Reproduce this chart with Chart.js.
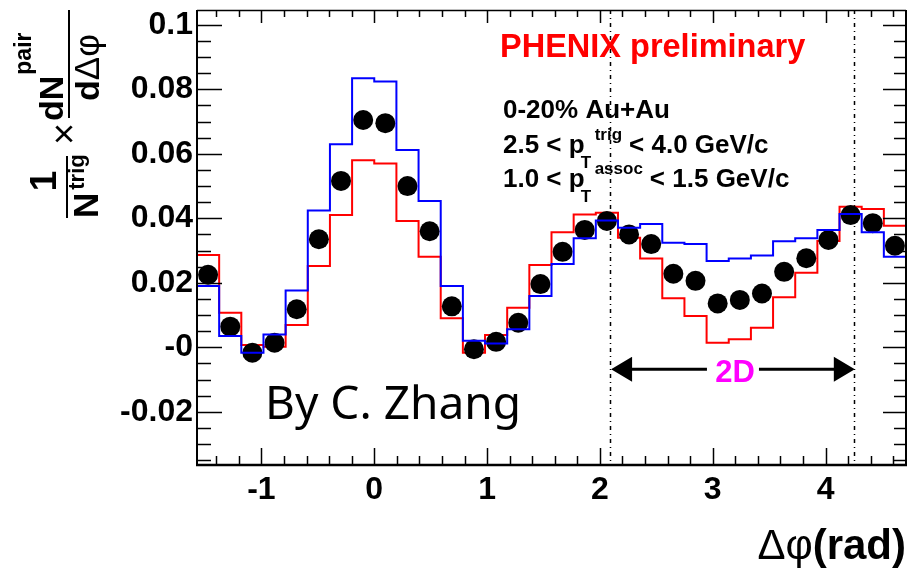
<!DOCTYPE html>
<html>
<head>
<meta charset="utf-8">
<title>PHENIX dihadron correlation, 0-20% Au+Au</title>
<script src="https://cdn.jsdelivr.net/npm/chart.js"></script>
<style>
  html, body { margin: 0; padding: 0; background: #fff; }
  #chart { display: block; }
</style>
</head>
<body>
<canvas id="chart" width="909" height="570"></canvas>
<script>
// Δφ binning: 32 bins over [-π/2, 3π/2]
const nBins = 32;
const phiLow = -Math.PI / 2;
const phiHigh = 3 * Math.PI / 2;
const binWidth = (phiHigh - phiLow) / nBins;

// per-trigger pair yield (black points)
const pairYield = [0.0225, 0.0064, -0.0017, 0.0014, 0.0118, 0.0335, 0.0516, 0.0705,
                   0.0695, 0.0500, 0.0360, 0.0127, -0.0006, 0.0017, 0.0076, 0.0196,
                   0.0296, 0.0364, 0.0392, 0.0350, 0.0320, 0.0228, 0.0206, 0.0136,
                   0.0147, 0.0167, 0.0234, 0.0276, 0.0333, 0.0410, 0.0385, 0.0315];
// systematic band, upper (blue) and lower (red) histograms
const bandBlue = [0.0190, 0.0035, -0.0017, 0.0040, 0.0176, 0.0424, 0.0630, 0.0834,
                  0.0824, 0.0612, 0.0454, 0.0190, 0.0020, 0.0012, 0.0056, 0.0159,
                  0.0258, 0.0338, 0.0393, 0.0371, 0.0382, 0.0324, 0.0320, 0.0268,
                  0.0275, 0.0285, 0.0329, 0.0338, 0.0364, 0.0413, 0.0357, 0.0281];
const bandRed = [0.0286, 0.0107, 0.0007, 0.0002, 0.0069, 0.0252, 0.0410, 0.0580,
                 0.0570, 0.0392, 0.0281, 0.0090, -0.0017, 0.0038, 0.0123, 0.0255,
                 0.0357, 0.0412, 0.0417, 0.0340, 0.0275, 0.0152, 0.0097, 0.0014,
                 0.0025, 0.0061, 0.0155, 0.0231, 0.0330, 0.0436, 0.0429, 0.0377];

const xTicks = [-1, 0, 1, 2, 3, 4];
const xTickLabels = ['-1', '0', '1', '2', '3', '4'];
const yTicks = [-0.02, 0, 0.02, 0.04, 0.06, 0.08, 0.1];
const yTickLabels = ['-0.02', '-0', '0.02', '0.04', '0.06', '0.08', '0.1'];
const yRange = [-0.0365, 0.1046];
const regionEdges = [2.09, 4.25];   // head region marked "2D"
const arrowLevel = -0.0068;

const binCenter = i => phiLow + (i + 0.5) * binWidth;
const binEdge = i => phiLow + i * binWidth;

// histogram outline: one point per lower bin edge plus the last upper edge
function histPoints(vals) {
  const pts = vals.map((v, i) => ({ x: binEdge(i), y: v }));
  pts.push({ x: binEdge(vals.length), y: vals[vals.length - 1] });
  return pts;
}

const SANS = '"Liberation Sans", Arial, sans-serif';
const bold = s => `bold ${s}px ${SANS}`;
const plain = s => `${s}px ${SANS}`;

function hline(ctx, x1, x2, y) {
  ctx.beginPath(); ctx.moveTo(x1, y); ctx.lineTo(x2, y); ctx.stroke();
}
function vline(ctx, x, y1, y2) {
  ctx.beginPath(); ctx.moveTo(x, y1); ctx.lineTo(x, y2); ctx.stroke();
}

// 1/N^trig × dN^pair/dΔφ written bottom-to-top
function drawYTitle(ctx) {
  ctx.save();
  ctx.rotate(-Math.PI / 2);          // local x = -page y, local y = page x
  ctx.fillStyle = '#000';
  ctx.strokeStyle = '#000';
  ctx.textBaseline = 'alphabetic';

  ctx.font = bold(37); ctx.textAlign = 'center';
  ctx.fillText('1', -181, 56);
  ctx.lineWidth = 2;
  hline(ctx, -218, -156, 67);
  ctx.textAlign = 'left';
  ctx.font = bold(35);
  ctx.fillText('N', -218, 98);
  const nW = ctx.measureText('N').width;
  ctx.font = bold(22);
  ctx.fillText('trig', -218 + nW + 3, 84);

  ctx.font = plain(38); ctx.textAlign = 'center'; ctx.textBaseline = 'middle';
  ctx.fillText('\u00d7', -134, 67);

  ctx.textBaseline = 'alphabetic'; ctx.textAlign = 'left';
  ctx.font = bold(34);
  ctx.fillText('dN', -121, 63);
  const dnW = ctx.measureText('dN').width;
  ctx.font = bold(23);
  ctx.fillText('pair', -121 + dnW + 1, 31);
  hline(ctx, -118, -10, 69);
  ctx.font = bold(34);
  ctx.fillText('d', -101, 99);
  const dW = ctx.measureText('d').width;
  ctx.font = plain(35);
  ctx.fillText('\u0394\u03c6', -101 + dW, 99);
  ctx.restore();
}

function drawXTitle(ctx) {
  ctx.save();
  ctx.fillStyle = '#000';
  ctx.textBaseline = 'alphabetic';
  ctx.textAlign = 'right';
  ctx.font = bold(42);
  ctx.fillText('(rad)', 906, 559);
  const w = ctx.measureText('(rad)').width;
  ctx.font = plain(42);
  ctx.fillText('\u0394\u03c6', 906 - w, 559);
  ctx.restore();
}

// p_T with sub "T" and a superscript tag
function drawPtLine(ctx, left, base, sup, rest) {
  ctx.font = bold(26);
  ctx.fillText(left, 503, base);
  const lw = ctx.measureText(left).width;
  ctx.font = bold(17);
  ctx.fillText('T', 503 + lw - 4, base + 15);
  ctx.fillText(sup, 503 + lw + 10, base - 13);
  const sw = ctx.measureText(sup).width;
  ctx.font = bold(26);
  ctx.fillText(rest, 503 + lw + 10 + sw + 7, base);
}

const decorPlugin = {
  id: 'decor',
  beforeDatasetsDraw(chart) {
    const { ctx, chartArea: a, scales: { x } } = chart;
    ctx.save();
    ctx.strokeStyle = '#000';
    ctx.lineWidth = 1.5;
    ctx.setLineDash([4, 4, 1, 4]);
    regionEdges.forEach(v => vline(ctx, Math.round(x.getPixelForValue(v)) + 0.5, a.top, a.bottom));
    ctx.restore();
  },
  afterDraw(chart) {
    const { ctx, chartArea: a, scales: { x, y } } = chart;
    ctx.save();
    ctx.strokeStyle = '#000';
    ctx.fillStyle = '#000';

    // frame
    ctx.lineWidth = 1.5; hline(ctx, a.left, a.right, a.top + 0.5);
    ctx.lineWidth = 2.5; hline(ctx, a.left - 1, a.right + 1, a.bottom);
    ctx.lineWidth = 2; vline(ctx, a.left, a.top, a.bottom);
    vline(ctx, a.right, a.top, a.bottom);

    // inward ticks, x every 0.2, y every 0.005
    ctx.lineWidth = 1.5;
    for (let k = -7; k <= 23; k++) {
      const px = Math.round(x.getPixelForValue(k / 5)) + 0.5;
      const major = k % 5 === 0;
      vline(ctx, px, a.bottom, a.bottom - (major ? 17 : 9));
      vline(ctx, px, a.top, a.top + (major ? 13 : 7));
    }
    for (let k = -7; k <= 20; k++) {
      const py = Math.round(y.getPixelForValue(k * 0.005)) + 0.5;
      const major = k % 4 === 0;
      hline(ctx, a.left, a.left + (major ? 25 : 14), py);
      hline(ctx, a.right, a.right - (major ? 23 : 12), py);
    }

    // double arrow across the head region with "2D" label
    const ay = y.getPixelForValue(arrowLevel);
    const x1 = x.getPixelForValue(regionEdges[0]) + 1;
    const x2 = x.getPixelForValue(regionEdges[1]) + 1;
    const mid = (x1 + x2) / 2 + 2;
    ctx.lineWidth = 3;
    hline(ctx, x1 + 18, mid - 28, ay);
    hline(ctx, mid + 24, x2 - 18, ay);
    ctx.beginPath();
    ctx.moveTo(x1, ay); ctx.lineTo(x1 + 21, ay - 12.5); ctx.lineTo(x1 + 21, ay + 12.5); ctx.closePath();
    ctx.moveTo(x2, ay); ctx.lineTo(x2 - 21, ay - 12.5); ctx.lineTo(x2 - 21, ay + 12.5); ctx.closePath();
    ctx.fill();
    ctx.fillStyle = '#ff00ff';
    ctx.font = bold(31);
    ctx.textAlign = 'center';
    ctx.textBaseline = 'alphabetic';
    ctx.fillText('2D', mid, ay + 13);

    // labels
    ctx.textAlign = 'left';
    ctx.fillStyle = '#ff0000';
    ctx.font = bold(32.5);
    ctx.fillText('PHENIX preliminary', 500, 57);

    ctx.fillStyle = '#000';
    ctx.font = bold(26);
    ctx.fillText('0-20% Au+Au', 503, 118);
    drawPtLine(ctx, '2.5 < p', 153, 'trig', '< 4.0 GeV/c');
    drawPtLine(ctx, '1.0 < p', 187, 'assoc', '< 1.5 GeV/c');

    ctx.font = '46px "Noto Sans", "Open Sans", sans-serif';
    ctx.fillText('By C. Zhang', 265, 419);

    drawYTitle(ctx);
    drawXTitle(ctx);
    ctx.restore();
  }
};

const ctx = document.getElementById('chart').getContext('2d');

new Chart(ctx, {
  type: 'scatter',
  data: {
    datasets: [
      {
        type: 'line',
        label: 'upper',
        data: histPoints(bandBlue),
        borderColor: '#0000ff',
        borderWidth: 2,
        stepped: true,
        pointRadius: 0,
        fill: false,
        order: 0
      },
      {
        type: 'scatter',
        label: 'data',
        data: pairYield.map((v, i) => ({ x: binCenter(i), y: v })),
        backgroundColor: '#000',
        borderWidth: 0,
        pointRadius: 10,
        order: 1
      },
      {
        type: 'line',
        label: 'lower',
        data: histPoints(bandRed),
        borderColor: '#ff0000',
        borderWidth: 2,
        stepped: true,
        pointRadius: 0,
        fill: false,
        order: 2
      }
    ]
  },
  options: {
    responsive: false,
    animation: false,
    devicePixelRatio: 1,
    layout: { autoPadding: false, padding: { top: 10, right: 3, left: 0, bottom: 0 } },
    plugins: { legend: { display: false }, tooltip: { enabled: false } },
    scales: {
      x: {
        type: 'linear',
        min: phiLow,
        max: phiHigh,
        grid: { display: false, drawTicks: false },
        border: { display: false },
        afterBuildTicks: s => { s.ticks = xTicks.map(v => ({ value: v })); },
        afterFit: s => { s.height = 105; s.paddingLeft = 0; s.paddingRight = 0; },
        ticks: {
          autoSkip: false,
          maxRotation: 0,
          padding: 6,
          color: '#000',
          font: { family: SANS, weight: 'bold', size: 32 },
          callback: (v, i) => xTickLabels[i]
        }
      },
      y: {
        type: 'linear',
        min: yRange[0],
        max: yRange[1],
        grid: { display: false, drawTicks: false },
        border: { display: false },
        afterBuildTicks: s => { s.ticks = yTicks.map(v => ({ value: v })); },
        afterFit: s => { s.width = 197; s.paddingTop = 0; s.paddingBottom = 0; },
        ticks: {
          autoSkip: false,
          padding: 4,
          color: '#000',
          font: { family: SANS, weight: 'bold', size: 32 },
          callback: (v, i) => yTickLabels[i]
        }
      }
    }
  },
  plugins: [decorPlugin]
});
</script>
</body>
</html>
